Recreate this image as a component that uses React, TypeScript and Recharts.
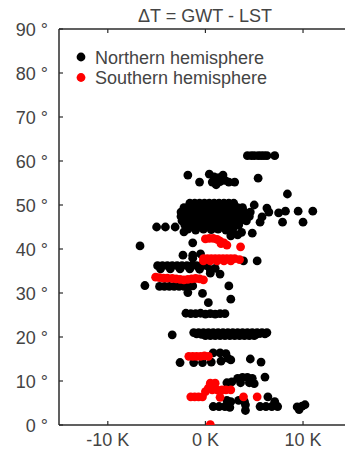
import React from 'react';
import { ScatterChart, Scatter, XAxis, YAxis } from 'recharts';

// [ΔT (K), latitude (°)]
type Pt = [number, number];

const X_TICKS = [-10, 0, 10];
const Y_TICKS = [0, 10, 20, 30, 40, 50, 60, 70, 80, 90];
const X_DOMAIN: [number, number] = [-15, 14.3];
const Y_DOMAIN: [number, number] = [0, 90];

const TITLE = 'ΔT = GWT - LST';
const SERIES_NAMES = ['Northern hemisphere', 'Southern hemisphere'];
const SERIES_COLORS = ['#000000', '#ff0000'];

// northern hemisphere sites, grouped by latitude band
const north61: Pt[] = [
  [4.3, 61.2], [4.7, 61.2], [5.0, 61.2], [5.4, 61.2], [5.7, 61.2], [6.0, 61.2], [6.3, 61.2], [7.1, 61.2],
];

const north55: Pt[] = [
  [-1.8, 56.8], [-0.6, 55.2], [0.4, 57.0], [0.9, 56.4], [1.8, 56.8], [1.4, 56.2], [0.7, 55.2],
  [1.1, 54.6], [1.5, 55.3], [2.0, 55.6], [2.4, 55.2], [3.0, 55.2], [1.0, 55.8], [5.4, 56.1],
];

const north50: Pt[] = [
  [-1.6, 50.4], [-1.1, 50.4], [-0.6, 50.4], [-0.1, 50.4], [0.4, 50.4], [0.9, 50.4], [1.4, 50.4], [1.9, 50.4],
  [2.4, 50.4], [2.9, 50.4],
  [-2.2, 49.4], [-1.7, 49.4], [-1.2, 49.4], [-0.7, 49.4], [-0.2, 49.4], [0.3, 49.4], [0.8, 49.4], [1.3, 49.4],
  [1.8, 49.4], [2.3, 49.4], [2.8, 49.4], [3.3, 49.4], [3.8, 49.4],
  [-2.5, 48.4], [-2.0, 48.4], [-1.5, 48.4], [-1.0, 48.4], [-0.5, 48.4], [0.0, 48.4], [0.5, 48.4], [1.0, 48.4],
  [1.5, 48.4], [2.0, 48.4], [2.5, 48.4], [3.0, 48.4], [3.5, 48.4], [4.0, 48.4], [4.6, 48.4],
];

const north46: Pt[] = [
  [-2.5, 47.4], [-2.0, 47.4], [-1.5, 47.4], [-1.0, 47.4], [-0.5, 47.4], [0.0, 47.4], [0.5, 47.4], [1.0, 47.4],
  [1.5, 47.4], [2.0, 47.4], [2.5, 47.4], [3.0, 47.4], [3.5, 47.4], [4.0, 47.4], [4.5, 47.4],
  [-2.4, 46.4], [-1.9, 46.4], [-1.4, 46.4], [-0.9, 46.4], [-0.4, 46.4], [0.1, 46.4], [0.6, 46.4], [1.1, 46.4],
  [1.6, 46.4], [2.1, 46.4], [2.6, 46.4], [3.1, 46.4], [3.6, 46.4], [4.2, 46.4],
  [-2.1, 45.4], [-1.6, 45.4], [-1.1, 45.4], [-0.6, 45.4], [-0.1, 45.4], [0.4, 45.4], [0.9, 45.4], [1.4, 45.4],
  [1.9, 45.4], [2.4, 45.4], [2.9, 45.4], [3.4, 45.4],
  [-1.8, 44.5], [-1.0, 44.3], [-0.2, 44.5], [0.6, 44.4], [1.3, 44.5], [2.1, 44.3], [2.8, 44.5],
];

const northEast: Pt[] = [
  [8.4, 52.5], [5.0, 50.0], [6.3, 49.3], [6.5, 48.4], [5.8, 47.3], [5.6, 46.1], [7.5, 48.2], [8.2, 48.6],
  [9.5, 48.6], [11.0, 48.6], [7.9, 46.1], [10.0, 46.1], [4.8, 43.6],
];

const north42: Pt[] = [
  [-5.0, 45.0], [-4.1, 45.0], [-3.1, 45.0], [-2.2, 43.9], [-6.7, 40.7], [-1.3, 41.4], [2.6, 43.0], [3.3, 43.2],
  [3.7, 43.8],
];

const north38: Pt[] = [
  [-2.3, 38.6], [-1.3, 38.6], [-1.3, 37.9], [-0.5, 38.9], [3.9, 37.3], [5.3, 37.3],
];

const north36: Pt[] = [
  [-4.9, 36.2], [-4.4, 36.2], [-3.9, 36.2], [-3.4, 36.2], [-2.9, 36.2], [-2.4, 36.2], [-1.9, 36.2], [-1.4, 36.2],
  [-0.9, 36.2], [-0.4, 36.2], [0.1, 36.2],
  [-4.6, 35.5], [-3.6, 35.5], [-2.6, 35.5], [-1.6, 35.5], [-0.6, 35.4], [0.5, 35.3], [1.0, 35.6],
  [0.5, 34.5], [1.5, 34.3],
];

const north30: Pt[] = [
  [-6.2, 31.7],
  [-4.7, 31.5], [-4.2, 31.5], [-3.7, 31.5], [-3.2, 31.5], [-2.7, 31.5], [-2.2, 31.5], [-1.7, 31.5], [-1.3, 31.6],
  [-1.8, 30.1], [-0.3, 29.9], [2.4, 31.6], [0.3, 27.8], [2.6, 28.6],
];

const north25: Pt[] = [
  [-2.0, 25.4], [-1.5, 25.3], [-1.0, 25.3], [-0.5, 25.4], [0.0, 25.2], [0.5, 25.3], [1.0, 25.2], [1.5, 25.3],
  [2.0, 25.3],
];

const north20: Pt[] = [
  [-3.4, 20.5],
  [-1.2, 21.0], [-0.7, 21.0], [-0.2, 21.0], [0.3, 21.0], [0.8, 21.0], [1.3, 21.0], [1.8, 21.0], [2.3, 21.0],
  [2.8, 21.0], [3.3, 21.0], [3.8, 21.0], [4.3, 21.0], [4.8, 21.0], [5.3, 21.0], [5.8, 21.0], [6.3, 21.0],
  [0.0, 20.3], [0.5, 20.3], [1.0, 20.3], [1.5, 20.3], [2.0, 20.3], [2.5, 20.3], [3.0, 20.3], [3.5, 20.3],
  [4.0, 20.3], [4.5, 20.3], [5.0, 20.3],
  [-0.9, 20.7], [-0.4, 20.6], [0.2, 20.7], [1.2, 20.6], [2.2, 20.7], [3.2, 20.6], [4.2, 20.7], [5.2, 20.6],
  [5.6, 20.8], [6.1, 20.7],
];

const north15: Pt[] = [
  [-2.6, 14.2], [-1.2, 14.2], [-0.3, 14.2], [0.6, 14.3], [0.8, 16.4], [1.5, 16.4], [2.1, 16.2], [1.6, 14.5],
  [2.3, 15.2], [2.6, 14.8], [4.6, 15.0], [5.7, 14.3],
];

const north10: Pt[] = [
  [2.2, 9.6], [2.7, 9.8], [3.3, 10.6], [3.8, 10.8], [4.3, 10.8], [4.8, 10.6], [3.6, 9.6], [4.5, 9.6],
  [5.0, 9.4], [6.1, 10.9],
];

const north5: Pt[] = [
  [0.8, 4.2], [1.4, 4.2], [2.0, 4.2], [2.5, 4.0], [2.2, 5.6], [2.6, 5.3], [3.4, 5.6], [4.1, 4.6],
  [4.1, 3.3], [4.0, 5.3], [5.6, 4.2], [6.2, 4.2], [6.8, 4.2], [7.4, 4.2], [6.4, 6.4], [7.1, 5.3],
  [9.4, 4.1], [9.9, 4.3], [10.2, 4.6], [9.6, 3.5],
];

// southern hemisphere sites
const south42: Pt[] = [
  [0.0, 42.3], [0.4, 42.4], [0.8, 42.4], [1.2, 42.2], [1.5, 41.8], [1.9, 41.4], [2.2, 40.9], [1.6, 41.2],
  [3.6, 40.5],
];

const south37: Pt[] = [
  [-0.2, 37.8], [0.2, 37.8], [0.6, 37.8], [1.0, 37.8], [1.4, 37.8], [1.8, 37.8], [2.2, 37.8], [2.6, 37.8],
  [3.0, 37.8], [-0.2, 37.3], [0.5, 37.3], [1.2, 37.3], [1.9, 37.3], [2.6, 37.3], [3.5, 37.6],
];

const south33: Pt[] = [
  [-5.1, 33.6], [-4.7, 33.5], [-4.3, 33.4], [-3.9, 33.4], [-3.4, 33.3], [-3.0, 33.2], [-2.6, 33.1],
  [-2.2, 33.0], [-1.8, 33.1], [-1.4, 33.2], [-1.0, 33.3], [-0.6, 33.2], [-0.2, 33.0],
];

const south15: Pt[] = [
  [-1.7, 15.6], [-1.3, 15.6], [-0.9, 15.6], [-0.5, 15.6], [-0.1, 15.7], [0.3, 15.6],
];

const south8: Pt[] = [
  [0.5, 9.5], [1.0, 9.5], [0.3, 8.4], [0.0, 7.6], [0.7, 8.0], [1.2, 8.0], [1.7, 8.0], [2.1, 8.0], [2.6, 8.0],
  [-1.5, 6.4], [-1.1, 6.4], [-0.7, 6.4], [-0.3, 6.4], [1.5, 6.3], [3.9, 6.4], [5.3, 6.4],
];

const south0: Pt[] = [[0.5, 0.1]];

const toRows = (pts: Pt[]) => pts.map(([dt, lat]) => ({ dt, lat }));

const northern = toRows([
  ...north61, ...north55, ...north50, ...north46, ...northEast, ...north42, ...north38,
  ...north36, ...north30, ...north25, ...north20, ...north15, ...north10, ...north5,
]);
const southern = toRows([...south42, ...south37, ...south33, ...south15, ...south8, ...south0]);

const W = 345;
const H = 451;
const AXIS = '#2b2b2b';
const TEXT = '#444444';
const FONT = '"Liberation Sans", Arial, sans-serif';
const DOT_R = 4.4;

function BottomTick({ x, y, payload }: any) {
  return (
    <g>
      <line x1={x} y1={y} x2={x} y2={y - 4} stroke={AXIS} strokeWidth={1.2} />
      <text x={x} y={y + 21} textAnchor="middle" fill={TEXT} fontSize={18} fontFamily={FONT}>
        {`${payload.value} K`}
      </text>
    </g>
  );
}

function TopTick({ x, y }: any) {
  return <line x1={x} y1={y} x2={x} y2={y + 4} stroke={AXIS} strokeWidth={1.2} />;
}

function LeftTick({ x, y, payload }: any) {
  return (
    <g>
      <line x1={x} y1={y} x2={x + 4} y2={y} stroke={AXIS} strokeWidth={1.2} />
      <text x={x - 11} y={y + 6.5} textAnchor="end" fill={TEXT} fontSize={18} fontFamily={FONT}>
        {`${payload.value} °`}
      </text>
    </g>
  );
}

const dot = (color: string) => (p: any) => <circle cx={p.cx} cy={p.cy} r={DOT_R} fill={color} />;

export default function App() {
  return (
    <div style={{ position: 'absolute', left: 0, top: 0, width: W, height: H, background: '#fff' }}>
      <ScatterChart width={W} height={H} margin={{ top: 0, right: 0, bottom: 0, left: 0 }}>
        <XAxis
          xAxisId="top"
          orientation="top"
          type="number"
          dataKey="dt"
          domain={X_DOMAIN}
          ticks={X_TICKS}
          allowDataOverflow
          height={29}
          tickSize={0}
          tickMargin={0}
          tick={<TopTick />}
          axisLine={{ stroke: AXIS, strokeWidth: 1.5 }}
        />
        <XAxis
          type="number"
          dataKey="dt"
          domain={X_DOMAIN}
          ticks={X_TICKS}
          allowDataOverflow
          height={26}
          tickSize={0}
          tickMargin={0}
          tick={<BottomTick />}
          axisLine={{ stroke: AXIS, strokeWidth: 1.5 }}
        />
        <YAxis
          type="number"
          dataKey="lat"
          domain={Y_DOMAIN}
          ticks={Y_TICKS}
          allowDataOverflow
          width={59}
          tickSize={0}
          tickMargin={0}
          tick={<LeftTick />}
          axisLine={{ stroke: AXIS, strokeWidth: 1.5 }}
        />
        <Scatter
          name={SERIES_NAMES[0]}
          data={northern}
          shape={dot(SERIES_COLORS[0])}
          isAnimationActive={false}
        />
        <Scatter
          name={SERIES_NAMES[1]}
          data={southern}
          shape={dot(SERIES_COLORS[1])}
          isAnimationActive={false}
        />
      </ScatterChart>
      <svg
        width={W}
        height={H}
        style={{ position: 'absolute', left: 0, top: 0, pointerEvents: 'none' }}
        fontFamily={FONT}
      >
        <text x={205} y={22} textAnchor="middle" fill={TEXT} fontSize={18}>
          {TITLE}
        </text>
        {SERIES_NAMES.map((name, i) => (
          <g key={name}>
            <circle cx={81} cy={57 + i * 20.5} r={DOT_R} fill={SERIES_COLORS[i]} />
            <text x={95} y={63.5 + i * 20.5} fill={TEXT} fontSize={18}>
              {name}
            </text>
          </g>
        ))}
      </svg>
    </div>
  );
}
